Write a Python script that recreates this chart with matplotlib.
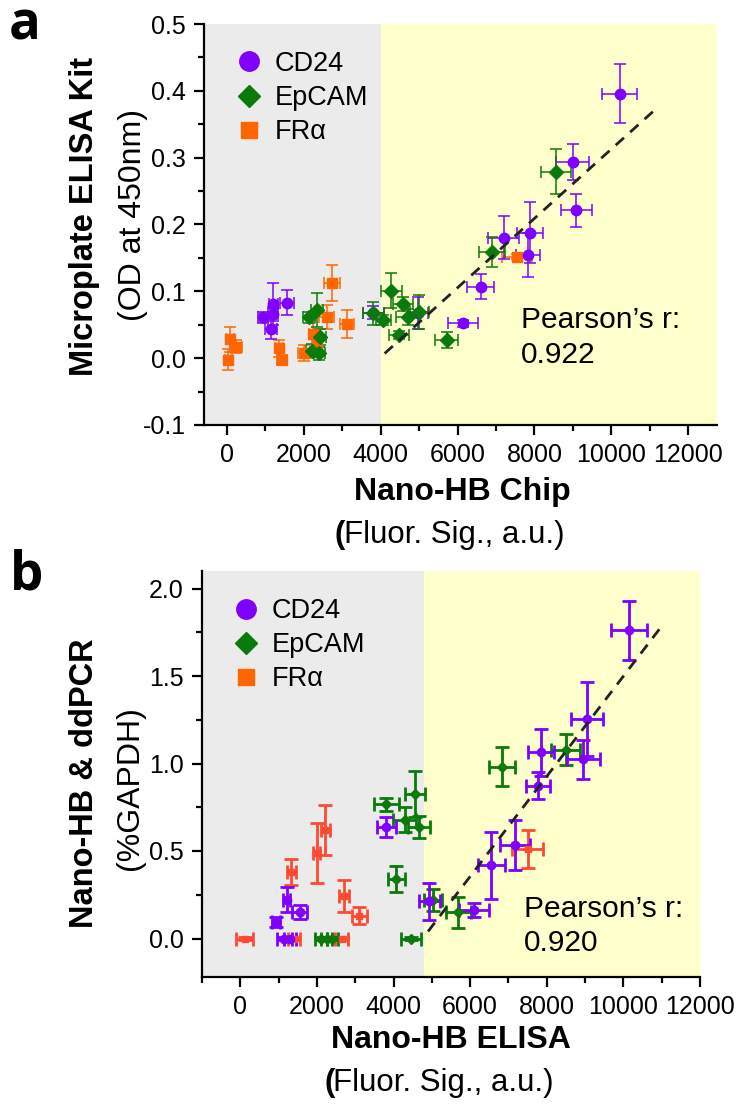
import matplotlib
matplotlib.use("Agg")
import matplotlib.pyplot as plt
from matplotlib.lines import Line2D

plt.rcParams['font.family'] = ['Liberation Sans', 'DejaVu Sans']

# ---- panel a : Nano-HB chip vs microplate ELISA kit ----
cd24_a_x = [10220, 8990, 9090, 7195, 7890, 7830, 6605, 6130, 3810, 4980, 930, 1206, 1190, 1138, 1570]
cd24_a_y = [0.396, 0.293, 0.221, 0.180, 0.188, 0.154, 0.107, 0.052, 0.068, 0.067, 0.061, 0.081, 0.066, 0.044, 0.083]
cd24_a_xe = [455, 430, 400, 400, 340, 310, 350, 390, 280, 260, 130, 120, 130, 150, 180]
cd24_a_ye = [0.044, 0.027, 0.025, 0.032, 0.046, 0.033, 0.019, 0.005, 0.010, 0.024, 0.008, 0.031, 0.010, 0.015, 0.019]

epcam_a_x = [8560, 6893, 4271, 3810, 4566, 4071, 4696, 5000, 4480, 5720, 2127, 2335, 2420, 2205, 2405]
epcam_a_y = [0.279, 0.159, 0.101, 0.067, 0.081, 0.057, 0.061, 0.069, 0.035, 0.027, 0.061, 0.072, 0.031, 0.011, 0.007]
epcam_a_xe = [400, 335, 270, 280, 260, 200, 300, 250, 260, 300, 150, 150, 150, 150, 150]
epcam_a_ye = [0.034, 0.023, 0.026, 0.017, 0.010, 0.008, 0.012, 0.025, 0.006, 0.012, 0.008, 0.025, 0.012, 0.010, 0.010]

fra_a_x = [7544, 2727, 3117, 2596, 2248, 2335, 2005, 1346, 1424, 78, 234, 34]
fra_a_y = [0.152, 0.112, 0.051, 0.062, 0.036, 0.022, 0.008, 0.0145, -0.002, 0.028, 0.017, -0.002]
fra_a_xe = [390, 200, 180, 200, 120, 120, 150, 100, 120, 100, 150, 100]
fra_a_ye = [0.004, 0.027, 0.021, 0.018, 0.030, 0.010, 0.012, 0.013, 0.006, 0.019, 0.010, 0.015]

fit_a_x = [4100, 11200]
fit_a_y = [0.007, 0.375]

# ---- panel b : Nano-HB ELISA vs Nano-HB & ddPCR ----
cd24_b_x = [10147, 9044, 8958, 7837, 7778, 7175, 6555, 6098, 4935, 3816, 1550, 1206, 930, 1145, 1300]
cd24_b_y = [1.762, 1.254, 1.025, 1.064, 0.874, 0.536, 0.418, 0.165, 0.213, 0.637, 0.150, 0.222, 0.093, 0.0, 0.0]
cd24_b_xe = [465, 415, 425, 340, 310, 390, 355, 390, 280, 237, 190, 100, 100, 200, 150]
cd24_b_ye = [0.169, 0.212, 0.112, 0.133, 0.079, 0.143, 0.191, 0.040, 0.107, 0.055, 0.040, 0.070, 0.030, 0.01, 0.01]

epcam_b_x = [8493, 6830, 4566, 3816, 4290, 4659, 4074, 5022, 5693, 4463, 2100, 2250, 2400]
epcam_b_y = [1.078, 0.982, 0.827, 0.768, 0.678, 0.637, 0.340, 0.219, 0.150, 0.0, 0.0, 0.0, 0.0]
epcam_b_xe = [380, 345, 265, 315, 300, 290, 230, 235, 330, 265, 150, 150, 150]
epcam_b_ye = [0.088, 0.110, 0.130, 0.037, 0.071, 0.062, 0.076, 0.062, 0.088, 0.01, 0.01, 0.01, 0.01]

fra_b_x = [2222, 1990, 1336, 2695, 3109, 111, 2650, 1400, 7501]
fra_b_y = [0.621, 0.489, 0.380, 0.241, 0.131, 0.0, 0.0, 0.0, 0.511]
fra_b_xe = [120, 100, 110, 130, 195, 215, 170, 150, 410]
fra_b_ye = [0.141, 0.171, 0.076, 0.091, 0.050, 0.01, 0.01, 0.01, 0.108]

fit_b_x = [4900, 11000]
fit_b_y = [0.04, 1.785]

purple = "#8000FF"
green = "#0A7A0A"
orange = "#FF6600"
red = "#FF4A33"
gray_bg = "#EBEBEB"
yellow_bg = "#FFFFCC"

fig = plt.figure(figsize=(7.39, 11.04), dpi=100)
W, H = 739.0, 1104.0

def box(l, t, r, b):
    return [l / W, 1 - b / H, (r - l) / W, (b - t) / H]

def style(ax):
    for s in ['top', 'right']:
        ax.spines[s].set_visible(False)
    for s in ['left', 'bottom']:
        ax.spines[s].set_linewidth(1.6)
    ax.tick_params(which='major', length=7, width=1.6, labelsize=18, pad=6)
    ax.tick_params(which='minor', length=4, width=1.6)
    ax.set_facecolor('white')

def legend(ax):
    hand = [Line2D([], [], ls='none', marker='o', color=purple, ms=14),
            Line2D([], [], ls='none', marker='D', color=green, ms=11),
            Line2D([], [], ls='none', marker='s', color=orange, ms=12)]
    ax.legend(hand, ['CD24', 'EpCAM', 'FR\u03b1'], loc='upper left', bbox_to_anchor=(0.04, 0.96),
              frameon=False, fontsize=19.5, handlelength=1.0, handletextpad=0.45, labelspacing=0.3,
              borderaxespad=0)

# panel a
axa = fig.add_axes(box(204, 24, 717, 425))
style(axa)
axa.set_xlim(-600, 12750)
axa.set_ylim(-0.1, 0.5)
axa.axvspan(-600, 4000, color=gray_bg, zorder=0, lw=0)
axa.axvspan(4000, 12750, color=yellow_bg, zorder=0, lw=0)
axa.set_xticks(range(0, 12001, 2000))
axa.set_xticks(range(1000, 12001, 2000), minor=True)
axa.set_yticks([-0.1, 0.0, 0.1, 0.2, 0.3, 0.4, 0.5])
axa.set_yticklabels(['-0.1', '0.0', '0.1', '0.2', '0.3', '0.4', '0.5'])
axa.set_yticks([-0.05, 0.05, 0.15, 0.25, 0.35, 0.45], minor=True)

kw_a = dict(ls='none', elinewidth=1.1, capsize=4, capthick=1.1, zorder=3)
axa.errorbar(fra_a_x, fra_a_y, xerr=fra_a_xe, yerr=fra_a_ye, fmt='s', color=orange, ms=7, **kw_a)
axa.errorbar(cd24_a_x, cd24_a_y, xerr=cd24_a_xe, yerr=cd24_a_ye, fmt='o', color=purple, ms=7.5, **kw_a)
axa.errorbar(epcam_a_x, epcam_a_y, xerr=epcam_a_xe, yerr=epcam_a_ye, fmt='D', color=green, ms=7.5, **kw_a)
axa.plot(fit_a_x, fit_a_y, ls=(0, (4, 3)), color='#222222', lw=2, zorder=4)
axa.text(7650, 0.078, "Pearson\u2019s r:\n0.922", fontsize=21.5, va='top', ha='left', linespacing=1.3)
legend(axa)

# panel b
axb = fig.add_axes(box(202, 571, 700, 977))
style(axb)
axb.set_xlim(-1000, 12000)
axb.set_ylim(-0.22, 2.1)
axb.axvspan(-1000, 4800, color=gray_bg, zorder=0, lw=0)
axb.axvspan(4800, 12000, color=yellow_bg, zorder=0, lw=0)
axb.set_xticks(range(0, 12001, 2000))
axb.set_xticks(range(-1000, 12001, 2000), minor=True)
axb.set_yticks([0.0, 0.5, 1.0, 1.5, 2.0])
axb.set_yticklabels(['0.0', '0.5', '1.0', '1.5', '2.0'])
axb.set_yticks([0.25, 0.75, 1.25, 1.75], minor=True)

kw_b = dict(ls='none', elinewidth=2, capsize=5, capthick=2, zorder=3)
axb.errorbar(fra_b_x, fra_b_y, xerr=fra_b_xe, yerr=fra_b_ye, fmt='s', color=red, ms=5, **kw_b)
axb.errorbar(epcam_b_x, epcam_b_y, xerr=epcam_b_xe, yerr=epcam_b_ye, fmt='D', color=green, ms=5, **kw_b)
axb.errorbar(cd24_b_x, cd24_b_y, xerr=cd24_b_xe, yerr=cd24_b_ye, fmt='o', color=purple, ms=6, **kw_b)
axb.plot(fit_b_x, fit_b_y, ls=(0, (4, 3)), color='#222222', lw=2, zorder=4)
axb.text(7400, 0.25, "Pearson\u2019s r:\n0.920", fontsize=21.5, va='top', ha='left', linespacing=1.3)
legend(axb)

# axis titles
fig.text(462 / W, 1 - 492 / H, "Nano-HB Chip", fontsize=23, fontweight='bold', ha='center', va='center')
fig.text(335 / W, 1 - 535 / H, "(", fontsize=22.5, fontweight='bold', ha='left', va='center')
fig.text(344 / W, 1 - 535 / H, "Fluor. Sig., a.u.)", fontsize=22.5, ha='left', va='center')
fig.text(85 / W, 1 - 216 / H, "Microplate ELISA Kit", fontsize=23.5, fontweight='bold', rotation=90,
         ha='center', va='center')
fig.text(133 / W, 1 - 215 / H, "(OD at 450nm)", fontsize=23, rotation=90, ha='center', va='center')

fig.text(451 / W, 1 - 1040 / H, "Nano-HB ELISA", fontsize=23, fontweight='bold', ha='center', va='center')
fig.text(324 / W, 1 - 1083 / H, "(", fontsize=22.5, fontweight='bold', ha='left', va='center')
fig.text(333 / W, 1 - 1083 / H, "Fluor. Sig., a.u.)", fontsize=22.5, ha='left', va='center')
fig.text(85 / W, 1 - 783 / H, "Nano-HB & ddPCR", fontsize=23.5, fontweight='bold', rotation=90,
         ha='center', va='center')
fig.text(130 / W, 1 - 788 / H, "(%GAPDH)", fontsize=23, rotation=90, ha='center', va='center')

fig.text(25 / W, 1 - 25 / H, "a", fontsize=38, fontweight='bold', ha='center', va='center',
         family=['Open Sans', 'DejaVu Sans'])
fig.text(27 / W, 1 - 576 / H, "b", fontsize=38, fontweight='bold', ha='center', va='center',
         family=['Open Sans', 'DejaVu Sans'])

fig.savefig("out.png", dpi=100)
